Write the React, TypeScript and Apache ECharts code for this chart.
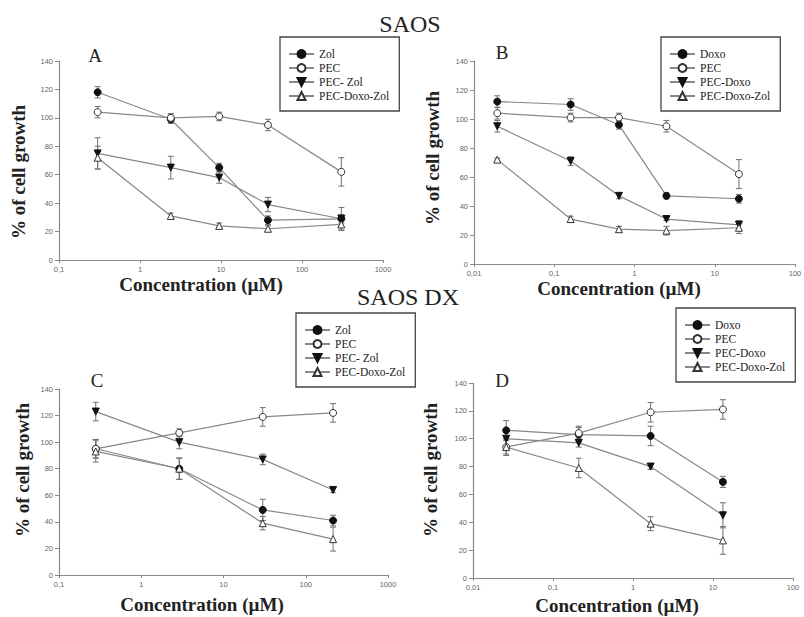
import React, { useEffect, useRef } from "react";
import * as echarts from "echarts";

// ---- Data ----
// Panel A (SAOS, Zol)
const concA = [0.3, 2.4, 9.5, 38, 306];
const zolA = [118, 99, 65, 28, 29];
const zolAErr = [4, 3, 3, 3, 3];
const pecA = [104, 100, 101, 95, 62];
const pecAErr = [4, 3, 3, 4, 10];
const pecZolA = [75, 65, 58, 39, 29];
const pecZolAErr = [11, 8, 4, 5, 8];
const pdzA = [72, 31, 24, 22, 25];
const pdzAErr = [8, 2, 2, 2, 4];

// Panel B (SAOS, Doxo)
const concB = [0.0195, 0.16, 0.64, 2.5, 20];
const doxoB = [112, 110, 96, 47, 45];
const doxoBErr = [4, 4, 3, 2, 3];
const pecB = [104, 101, 101, 95, 62];
const pecBErr = [4, 3, 3, 4, 10];
const pecDoxoB = [95, 71, 47, 31, 27];
const pecDoxoBErr = [4, 3, 2, 1, 3];
const pdzB = [72, 31, 24, 23, 25];
const pdzBErr = [1, 2, 2, 3, 4];

// Panel C (SAOS DX, Zol)
const concC = [0.28, 2.9, 30, 215];
const zolC = [95, 80, 49, 41];
const zolCErr = [7, 8, 8, 4];
const pecC = [95, 107, 119, 122];
const pecCErr = [7, 3, 7, 7];
const pecZolC = [123, 100, 87, 64];
const pecZolCErr = [7, 5, 4, 2];
const pdzC = [93, 80, 39, 27];
const pdzCErr = [8, 8, 5, 9];

// Panel D (SAOS DX, Doxo)
const concD = [0.026, 0.21, 1.66, 13.3];
const doxoD = [106, 103, 102, 69];
const doxoDErr = [7, 5, 7, 4];
const pecD = [94, 104, 119, 121];
const pecDErr = [6, 5, 7, 7];
const pecDoxoD = [100, 97, 80, 45];
const pecDoxoDErr = [6, 3, 2, 9];
const pdzD = [94, 79, 39, 27];
const pdzDErr = [5, 7, 5, 10];

const legendZol = ["Zol", "PEC", "PEC- Zol", "PEC-Doxo-Zol"];
const legendDoxo = ["Doxo", "PEC", "PEC-Doxo", "PEC-Doxo-Zol"];

const SERIF = "Liberation Serif";
const SANS = "Liberation Sans";
const LINE = "#888888";
const DARK = "#111";

type Marker = "fc" | "oc" | "ft" | "ot";
const DOWN_TRI = "path://M0,0 L10,0 L5,8.66 Z";

function markerStyle(m: Marker) {
  switch (m) {
    case "fc":
      return { symbol: "circle", itemStyle: { color: DARK, borderColor: DARK, borderWidth: 1 } };
    case "oc":
      return { symbol: "circle", itemStyle: { color: "#fff", borderColor: "#333", borderWidth: 1 } };
    case "ft":
      return { symbol: DOWN_TRI, itemStyle: { color: DARK, borderColor: DARK, borderWidth: 1 } };
    default:
      return { symbol: "triangle", itemStyle: { color: "#fff", borderColor: "#333", borderWidth: 1 } };
  }
}

function makeSeries(idx: number, name: string, xs: number[], ys: number[], errs: number[], m: Marker) {
  const ms = markerStyle(m);
  const line = {
    type: "line",
    name,
    xAxisIndex: idx,
    yAxisIndex: idx,
    data: xs.map((x, i) => [x, ys[i]]),
    symbol: ms.symbol,
    symbolSize: 7,
    itemStyle: ms.itemStyle,
    lineStyle: { color: LINE, width: 1.2 },
    z: 3,
  };
  const err = {
    type: "custom",
    name: `err-${idx}-${name}`,
    xAxisIndex: idx,
    yAxisIndex: idx,
    data: xs.map((x, i) => [x, ys[i] - errs[i], ys[i] + errs[i]]),
    encode: { x: 0, y: [1, 2] },
    z: 2,
    renderItem: (_params: any, api: any) => {
      const x = api.value(0);
      const lo = api.coord([x, api.value(1)]);
      const hi = api.coord([x, api.value(2)]);
      const w = 3;
      const st = { stroke: "#707070", lineWidth: 1 };
      return {
        type: "group",
        children: [
          { type: "line", shape: { x1: lo[0], y1: lo[1], x2: hi[0], y2: hi[1] }, style: st },
          { type: "line", shape: { x1: lo[0] - w, y1: lo[1], x2: lo[0] + w, y2: lo[1] }, style: st },
          { type: "line", shape: { x1: hi[0] - w, y1: hi[1], x2: hi[0] + w, y2: hi[1] }, style: st },
        ],
      };
    },
  };
  return [err, line];
}

const fmtLog = (v: number) => String(Number(v.toPrecision(3))).replace(".", ",");

function xAxis(idx: number, min: number, max: number) {
  return {
    type: "log",
    logBase: 10,
    gridIndex: idx,
    min,
    max,
    axisLine: { show: true, lineStyle: { color: "#8a8a8a", width: 1.2 } },
    axisTick: { show: true, length: 3, lineStyle: { color: "#8a8a8a" } },
    axisLabel: { fontSize: 7.5, color: "#666", fontFamily: SANS, margin: 5, formatter: fmtLog },
    splitLine: { show: false },
    minorTick: { show: false },
  };
}

function yAxis(idx: number) {
  return {
    type: "value",
    gridIndex: idx,
    min: 0,
    max: 140,
    interval: 20,
    axisLine: { show: true, lineStyle: { color: "#8a8a8a", width: 1.2 } },
    axisTick: { show: true, length: 4, lineStyle: { color: "#8a8a8a" } },
    axisLabel: { fontSize: 7.5, color: "#666", fontFamily: SANS, margin: 6 },
    splitLine: { show: false },
  };
}

const legendText = { fontFamily: SERIF, fontSize: 11.5, color: "#222" };

function legend(left: number, top: number, data: string[]) {
  return {
    show: true,
    left,
    top,
    orient: "vertical",
    data: data.map((name) => ({ name, textStyle: legendText })),
    selectedMode: false,
    borderColor: "#444",
    borderWidth: 1.3,
    borderRadius: 0,
    padding: [11, 10, 9, 8],
    itemGap: 2,
    itemWidth: 25,
    itemHeight: 10,
    textStyle: legendText,
  };
}

function txt(x: number, y: number, text: string, size: number, bold = false, rotation = 0) {
  return {
    type: "text",
    x,
    y,
    rotation,
    style: {
      text,
      fontFamily: SERIF,
      fontSize: size,
      fontWeight: bold ? "bold" : "normal",
      fill: "#222",
      align: "center",
      verticalAlign: "middle",
    },
  };
}

export default function App() {
  const ref = useRef<HTMLDivElement>(null);
  useEffect(() => {
    if (!ref.current) return;
    const chart = echarts.init(ref.current, null, { renderer: "svg" });
    const series = [
      ...makeSeries(0, "Zol", concA, zolA, zolAErr, "fc"),
      ...makeSeries(0, "PEC", concA, pecA, pecAErr, "oc"),
      ...makeSeries(0, "PEC- Zol", concA, pecZolA, pecZolAErr, "ft"),
      ...makeSeries(0, "PEC-Doxo-Zol", concA, pdzA, pdzAErr, "ot"),
      ...makeSeries(1, "Doxo", concB, doxoB, doxoBErr, "fc"),
      ...makeSeries(1, "PEC", concB, pecB, pecBErr, "oc"),
      ...makeSeries(1, "PEC-Doxo", concB, pecDoxoB, pecDoxoBErr, "ft"),
      ...makeSeries(1, "PEC-Doxo-Zol", concB, pdzB, pdzBErr, "ot"),
      ...makeSeries(2, "Zol", concC, zolC, zolCErr, "fc"),
      ...makeSeries(2, "PEC", concC, pecC, pecCErr, "oc"),
      ...makeSeries(2, "PEC- Zol", concC, pecZolC, pecZolCErr, "ft"),
      ...makeSeries(2, "PEC-Doxo-Zol", concC, pdzC, pdzCErr, "ot"),
      ...makeSeries(3, "Doxo", concD, doxoD, doxoDErr, "fc"),
      ...makeSeries(3, "PEC", concD, pecD, pecDErr, "oc"),
      ...makeSeries(3, "PEC-Doxo", concD, pecDoxoD, pecDoxoDErr, "ft"),
      ...makeSeries(3, "PEC-Doxo-Zol", concD, pdzD, pdzDErr, "ot"),
    ];
    chart.setOption({
      animation: false,
      backgroundColor: "#fff",
      grid: [
        { left: 59, top: 61, width: 324, height: 199, outerBoundsMode: "none" },
        { left: 474, top: 61, width: 321, height: 203, outerBoundsMode: "none" },
        { left: 59, top: 389, width: 329, height: 186, outerBoundsMode: "none" },
        { left: 473, top: 383, width: 320, height: 195, outerBoundsMode: "none" },
      ],
      xAxis: [xAxis(0, 0.1, 1000), xAxis(1, 0.01, 100), xAxis(2, 0.1, 1000), xAxis(3, 0.01, 100)],
      yAxis: [yAxis(0), yAxis(1), yAxis(2), yAxis(3)],
      legend: [
        legend(280, 37, legendZol),
        legend(661, 37, legendDoxo),
        legend(296, 313, legendZol),
        legend(676, 308, legendDoxo),
      ],
      graphic: [
        txt(410, 24, "SAOS", 24),
        txt(408, 297, "SAOS DX", 24),
        txt(95, 55, "A", 19),
        txt(502, 52, "B", 19),
        txt(97, 380, "C", 19),
        txt(502, 380, "D", 19),
        txt(201, 284, "Concentration (µM)", 19, true),
        txt(619, 288, "Concentration (µM)", 19, true),
        txt(202, 604, "Concentration (µM)", 19, true),
        txt(617, 605, "Concentration (µM)", 19, true),
        txt(18, 172, "% of cell growth", 19, true, Math.PI / 2),
        txt(432, 158, "% of cell growth", 19, true, Math.PI / 2),
        txt(22, 470, "% of cell growth", 19, true, Math.PI / 2),
        txt(430, 470, "% of cell growth", 19, true, Math.PI / 2),
      ],
      series,
    });
    return () => chart.dispose();
  }, []);
  return (
    <div
      ref={ref}
      style={{ position: "absolute", left: 0, top: 0, width: 804, height: 617, background: "#fff" }}
    />
  );
}
